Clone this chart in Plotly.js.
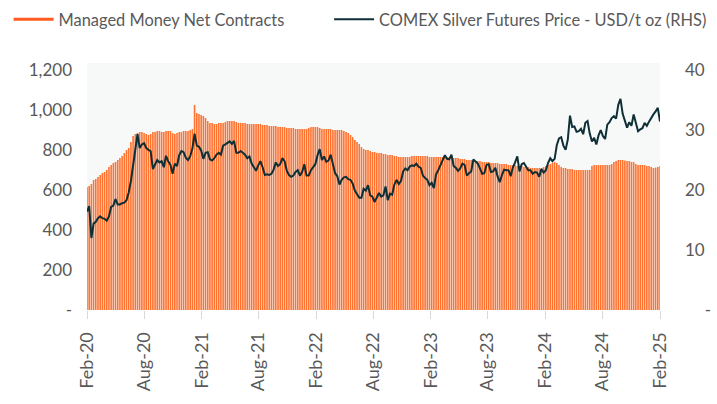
<!DOCTYPE html>
<html>
<head>
<meta charset="utf-8">
<script src="https://cdn.plot.ly/plotly-3.0.1.min.js"></script>
<style>html,body{margin:0;padding:0;background:#fff;}#chart{width:717px;height:404px;}</style>
</head>
<body>
<div id="chart"></div>
<script>
// Weekly series, first point at 2020-02-01 (chart's own axis positions)
const startDate = '2020-02-01';

const tickDates = ['2020-02-01','2020-08-01','2021-02-01','2021-08-01','2022-02-01','2022-08-01','2023-02-01','2023-08-01','2024-02-01','2024-08-01','2025-02-01'];
const tickLabels = ['Feb-20','Aug-20','Feb-21','Aug-21','Feb-22','Aug-22','Feb-23','Aug-23','Feb-24','Aug-24','Feb-25'];

// Managed Money Net Contracts (weekly)
const bars2020 = [615,620,630,650,655,665,675,685,690,700,715,725,735,740,750,760,770,785,800,810,840,870,880,885,890,890,885,880,875,880,890,890,895,895,890,890,895,895,895,885,880,885,890,890,895,895,895,900,905,1025,985,980];
const bars2021 = [975,970,960,945,935,935,930,930,935,935,935,940,945,945,945,945,940,935,935,935,935,930,930,930,930,930,930,930,925,925,925,920,920,920,920,915,915,915,915,910,910,910,910,905,905,905,905,905,905,910,915,915];
const bars2022 = [915,915,910,905,905,905,905,905,900,900,900,900,900,895,890,885,875,865,850,840,830,815,805,800,800,795,790,790,785,785,785,780,780,775,775,775,770,770,765,765,765,765,765,765,770,770,770,770,770,770,770,770];
const bars2023 = [765,765,765,765,765,765,765,765,765,765,760,760,760,760,755,755,755,750,750,750,750,745,745,745,740,740,740,740,735,735,735,735,730,730,730,730,725,725,725,725,720,720,720,715,715,715,710,710,710,710,710,710];
const bars2024 = [715,720,725,730,735,740,735,725,715,710,710,705,705,705,700,700,700,700,700,700,700,700,720,725,725,725,725,725,725,725,725,730,740,745,750,750,750,748,745,745,740,740,730,725,725,725,725,720,720,715,710,712,715,720];

// COMEX Silver Futures Price - USD/t oz (weekly)
const price2020 = [16.4,17.3,12.0,14.4,14.7,15.3,15.6,15.3,15.2,14.9,15.6,17.2,17.4,18.5,17.6,17.6,17.8,17.9,18.3,19.6,21.5,24.0,26.5,29.3,27.0,27.6,27.8,27.0,26.7,26.5,23.5,24.2,25.0,24.6,24.8,23.8,25.7,24.8,24.2,22.7,24.4,24.0,25.8,26.5,26.3];
const price2021 = [25.4,25.0,25.6,26.9,29.4,27.4,27.2,26.6,25.2,26.2,26.3,25.1,24.9,25.3,25.9,26.2,25.9,27.4,27.6,27.8,28.1,27.7,28.2,26.2,26.2,26.5,26.2,25.9,25.3,25.6,24.4,23.8,23.2,24.1,24.8,23.8,22.5,22.6,22.5,22.7,23.4,24.6,24.0,24.3,25.3,24.8,23.2,22.5,22.2,22.4,23.0,23.3];
const price2022 = [22.4,23.0,24.3,22.4,22.4,23.3,23.9,24.3,25.8,26.8,25.0,25.6,24.7,24.9,25.9,24.3,22.8,22.3,20.9,21.7,22.1,22.2,21.8,21.7,21.1,19.9,19.2,18.7,18.7,20.2,19.9,20.8,19.1,18.9,18.0,18.8,19.5,18.9,19.1,20.6,18.3,19.4,19.2,20.9,21.7,21.0,21.5,23.1,23.6,23.3,23.9,24.1];
const price2023 = [24.0,24.4,23.9,23.7,22.4,22.0,21.7,20.8,21.2,20.3,22.6,23.3,24.1,25.0,25.8,25.2,25.1,25.9,24.0,23.7,23.2,23.6,24.4,24.2,22.4,22.8,23.1,25.1,24.8,24.4,23.6,22.7,22.8,24.2,24.3,23.0,23.1,23.7,22.3,21.3,22.5,23.4,23.3,23.3,22.3,23.8,24.6,25.6,23.1,24.3,24.5,23.9];
const price2024 = [23.3,23.3,22.7,23.0,22.9,22.2,23.5,22.9,23.3,24.5,25.3,24.8,25.2,27.5,28.6,28.8,27.4,26.7,28.4,32.4,30.5,30.6,29.7,29.8,30.2,29.3,31.2,31.5,29.4,28.1,28.7,27.6,29.1,30.0,29.0,28.5,30.9,31.3,32.0,32.3,31.9,34.2,35.2,32.7,31.4,30.4,31.3,30.7,32.6,31.0,29.8,30.1];
const price2025 = [30.3,31.2,30.7,31.4,32.1,32.6,33.1,33.7,31.4];

const netContracts = [].concat(bars2020, bars2021, bars2022, bars2023, bars2024);
const silverPrice = [].concat(price2020, price2021, price2022, price2023, price2024, price2025);

function weeklyDates(start, n) {
  const t0 = Date.parse(start + 'T00:00:00Z');
  const out = [];
  for (let i = 0; i < n; i++) out.push(new Date(t0 + i * 7 * 86400000).toISOString().slice(0, 10));
  return out;
}
const barDates = weeklyDates(startDate, netContracts.length);
const lineDates = weeklyDates(startDate, silverPrice.length);

const grey = '#595959';
const fontFam = 'Lato, "Open Sans", sans-serif';

const traces = [
  {
    type: 'bar', x: barDates, y: netContracts, name: 'Managed Money Net Contracts',
    marker: {color: '#FF7230', line: {width: 0}}, showlegend: false, yaxis: 'y', hoverinfo: 'x+y'
  },
  {
    type: 'scatter', mode: 'lines', x: [null], y: [null], name: 'Managed Money Net Contracts',
    line: {color: '#FF5A1F', width: 3}, yaxis: 'y', showlegend: true, legend: 'legend'
  },
  {
    type: 'scatter', mode: 'lines', x: lineDates, y: silverPrice, name: 'COMEX Silver Futures Price - USD/t oz (RHS)',
    line: {color: '#0F2F36', width: 2}, yaxis: 'y2', showlegend: true, legend: 'legend2'
  }
];

const legendBase = {
  orientation: 'h', xref: 'container', xanchor: 'left',
  y: 0.995, yref: 'container', yanchor: 'top',
  font: {family: fontFam, size: 16.4, color: grey},
  bgcolor: 'rgba(0,0,0,0)', itemwidth: 40
};

const layout = {
  width: 717, height: 404,
  margin: {l: 87, r: 57, t: 63, b: 94},
  paper_bgcolor: '#ffffff',
  plot_bgcolor: '#F7F9F9',
  font: {family: fontFam, size: 17, color: grey},
  bargap: 0.27,
  showlegend: true,
  legend: Object.assign({}, legendBase, {x: 0.012}),
  legend2: Object.assign({}, legendBase, {x: 0.459}),
  xaxis: {
    type: 'date', range: ['2020-02-01', '2025-02-01'],
    tickmode: 'array', tickvals: tickDates, ticktext: tickLabels,
    tickangle: -90, ticks: 'outside', ticklen: 8, tickcolor: '#D9D9D9', tickwidth: 1,
    showgrid: false, zeroline: false, showline: false,
    ticklabelstandoff: 6,
    tickfont: {family: fontFam, size: 18, color: grey}
  },
  yaxis: {
    range: [0, 1235], tickmode: 'array',
    tickvals: [0, 200, 400, 600, 800, 1000, 1200],
    ticktext: ['-', '200', '400', '600', '800', '1,000', '1,200'],
    showgrid: false, zeroline: false, showline: false, ticks: '',
    ticklabelstandoff: 14,
    tickfont: {family: fontFam, size: 17, color: grey}
  },
  yaxis2: {
    overlaying: 'y', side: 'right', range: [0, 41.17], tickmode: 'array',
    tickvals: [0, 10, 20, 30, 40],
    ticktext: ['\u2007\u2007-', '10', '20', '30', '40'],
    showgrid: false, zeroline: false, showline: false, ticks: '',
    ticklabelstandoff: 24,
    tickfont: {family: fontFam, size: 17, color: grey}
  }
};

Plotly.newPlot('chart', traces, layout, {displayModeBar: false, staticPlot: true});
</script>
</body>
</html>
